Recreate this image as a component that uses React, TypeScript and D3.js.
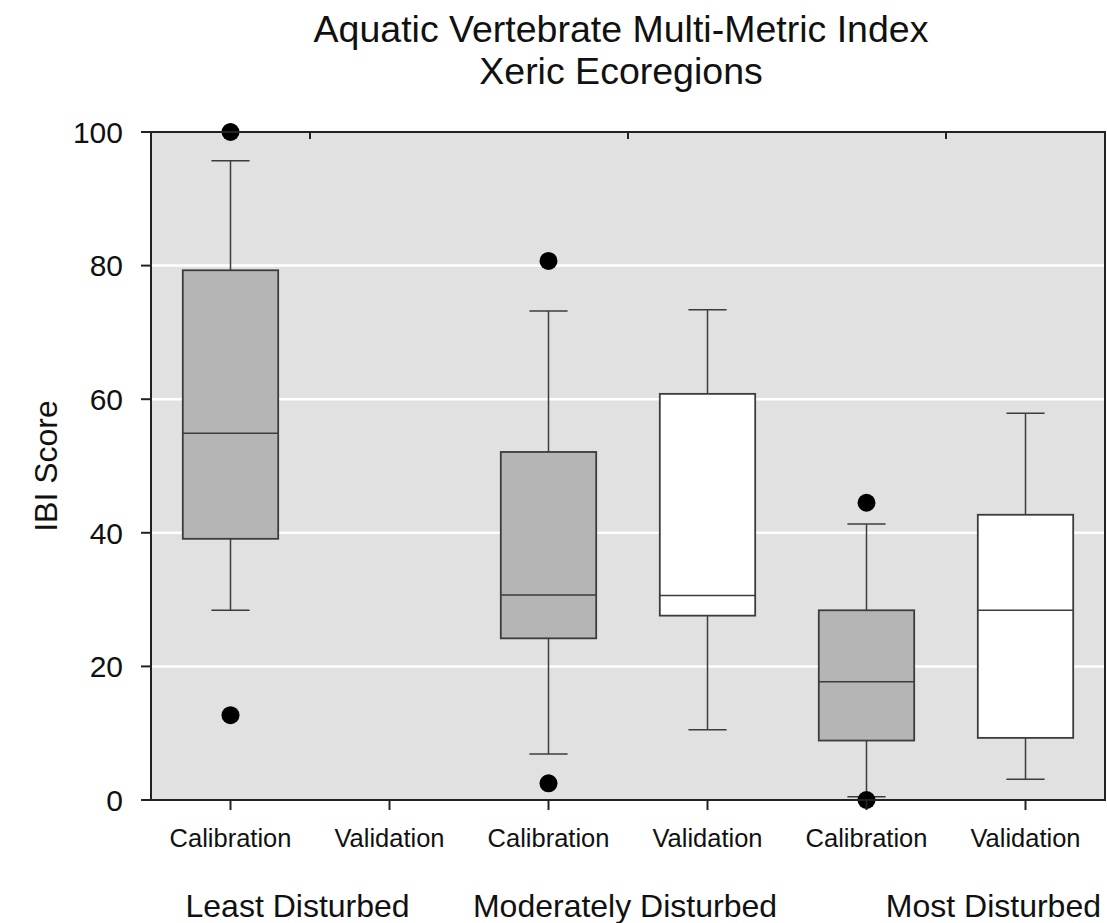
import React from "react";
import * as d3 from "d3";

const categories = ["Calibration", "Validation", "Calibration", "Validation", "Calibration", "Validation"];
const groups = ["Least Disturbed", "Moderately Disturbed", "Most Disturbed"];
const boxKinds = ["cal", "val", "cal", "val", "cal", "val"];
const whiskerLow: (number | null)[] = [28.4, null, 6.9, 10.5, 0.5, 3.1];
const q1: (number | null)[] = [39.1, null, 24.2, 27.6, 8.9, 9.3];
const median: (number | null)[] = [54.9, null, 30.7, 30.6, 17.7, 28.4];
const q3: (number | null)[] = [79.3, null, 52.1, 60.8, 28.4, 42.7];
const whiskerHigh: (number | null)[] = [95.7, null, 73.2, 73.4, 41.3, 57.9];
const outliers: number[][] = [[100, 12.7], [], [80.7, 2.5], [], [44.5, 0], []];
const yTicks = [0, 20, 40, 60, 80, 100];
const gridValues = [20, 40, 60, 80];
const titleLines = ["Aquatic Vertebrate Multi-Metric Index", "Xeric Ecoregions"];
const yLabel = "IBI Score";

const W = 1107;
const H = 923;
const M = { left: 151, right: 1105, top: 132, bottom: 800 };
const FONT = "'Liberation Sans', Arial, Helvetica, sans-serif";

export default function App() {
  const x = d3.scaleBand<number>().domain(d3.range(categories.length)).range([M.left, M.right]).padding(0);
  const y = d3.scaleLinear().domain([0, 100]).range([M.bottom, M.top]);
  const bw = x.bandwidth();
  const boxW = bw * 0.6;
  const capW = bw * 0.24;
  const cx = (i: number) => (x(i) as number) + bw / 2;
  const groupCenter = (g: number) => (cx(g * 2) + cx(g * 2 + 1)) / 2;
  const edge = "#3c3c3c";

  return (
    <svg width={W} height={H} style={{ position: "absolute", left: 0, top: 0, background: "#fff" }} fontFamily={FONT}>
      {/* Title */}
      {titleLines.map((t, i) => (
        <text key={t} x={621} y={42 + i * 42} fontSize={37.5} textAnchor="middle" fill="#111">{t}</text>
      ))}
      {/* Plot background */}
      <rect x={M.left} y={M.top} width={M.right - M.left} height={M.bottom - M.top} fill="#e1e1e1" />
      {/* Grid */}
      {gridValues.map((v) => (
        <line key={v} x1={M.left} x2={M.right} y1={y(v)} y2={y(v)} stroke="#ffffff" strokeWidth={2.5} />
      ))}
      {/* Boxes */}
      {categories.map((c, i) => {
        const lo = whiskerLow[i], a = q1[i], m = median[i], b = q3[i], hi = whiskerHigh[i];
        const X = cx(i);
        return (
          <g key={i}>
            {lo !== null && a !== null && (
              <>
                <line x1={X} x2={X} y1={y(a)} y2={y(lo)} stroke={edge} strokeWidth={1.5} />
                <line x1={X - capW / 2} x2={X + capW / 2} y1={y(lo)} y2={y(lo)} stroke={edge} strokeWidth={1.5} />
              </>
            )}
            {hi !== null && b !== null && (
              <>
                <line x1={X} x2={X} y1={y(b)} y2={y(hi)} stroke={edge} strokeWidth={1.5} />
                <line x1={X - capW / 2} x2={X + capW / 2} y1={y(hi)} y2={y(hi)} stroke={edge} strokeWidth={1.5} />
              </>
            )}
            {a !== null && b !== null && (
              <rect x={X - boxW / 2} y={y(b)} width={boxW} height={y(a) - y(b)}
                fill={boxKinds[i] === "cal" ? "#b5b5b5" : "#ffffff"} stroke={edge} strokeWidth={1.8} />
            )}
            {m !== null && (
              <line x1={X - boxW / 2} x2={X + boxW / 2} y1={y(m)} y2={y(m)} stroke={edge} strokeWidth={1.5} />
            )}
            {outliers[i].map((o, k) => (
              <circle key={k} cx={X} cy={y(o)} r={9} fill="#000" />
            ))}
          </g>
        );
      })}
      {/* Frame */}
      <rect x={M.left} y={M.top} width={M.right - M.left} height={M.bottom - M.top} fill="none" stroke="#222" strokeWidth={2} />
      {/* Y axis ticks */}
      {yTicks.map((v) => (
        <g key={v}>
          <line x1={M.left - 10} x2={M.left} y1={y(v)} y2={y(v)} stroke="#222" strokeWidth={2} />
          <text x={M.left - 28} y={y(v)} dy="0.36em" fontSize={30} textAnchor="end" fill="#111">{v}</text>
        </g>
      ))}
      {/* X ticks */}
      {categories.map((c, i) => (
        <g key={i}>
          <line x1={cx(i)} x2={cx(i)} y1={M.bottom} y2={M.bottom + 10} stroke="#222" strokeWidth={2} />
          <text x={cx(i)} y={847} fontSize={25.5} textAnchor="middle" fill="#111">{c}</text>
        </g>
      ))}
      {/* top ticks at group centres */}
      {groups.map((g, gi) => (
        <line key={g} x1={groupCenter(gi)} x2={groupCenter(gi)} y1={M.top} y2={M.top + 7} stroke="#222" strokeWidth={2} />
      ))}
      {/* Group labels */}
      <text x={cx(0) - 45} y={917} fontSize={32} textAnchor="start" fill="#111">{groups[0]}</text>
      <text x={groupCenter(1) - 3} y={917} fontSize={32} textAnchor="middle" fill="#111">{groups[1]}</text>
      <text x={M.right - 4} y={917} fontSize={32} textAnchor="end" fill="#111">{groups[2]}</text>
      {/* Y label */}
      <text transform={`translate(${57},${(M.top + M.bottom) / 2}) rotate(-90)`} fontSize={32} textAnchor="middle" fill="#111">{yLabel}</text>
    </svg>
  );
}
